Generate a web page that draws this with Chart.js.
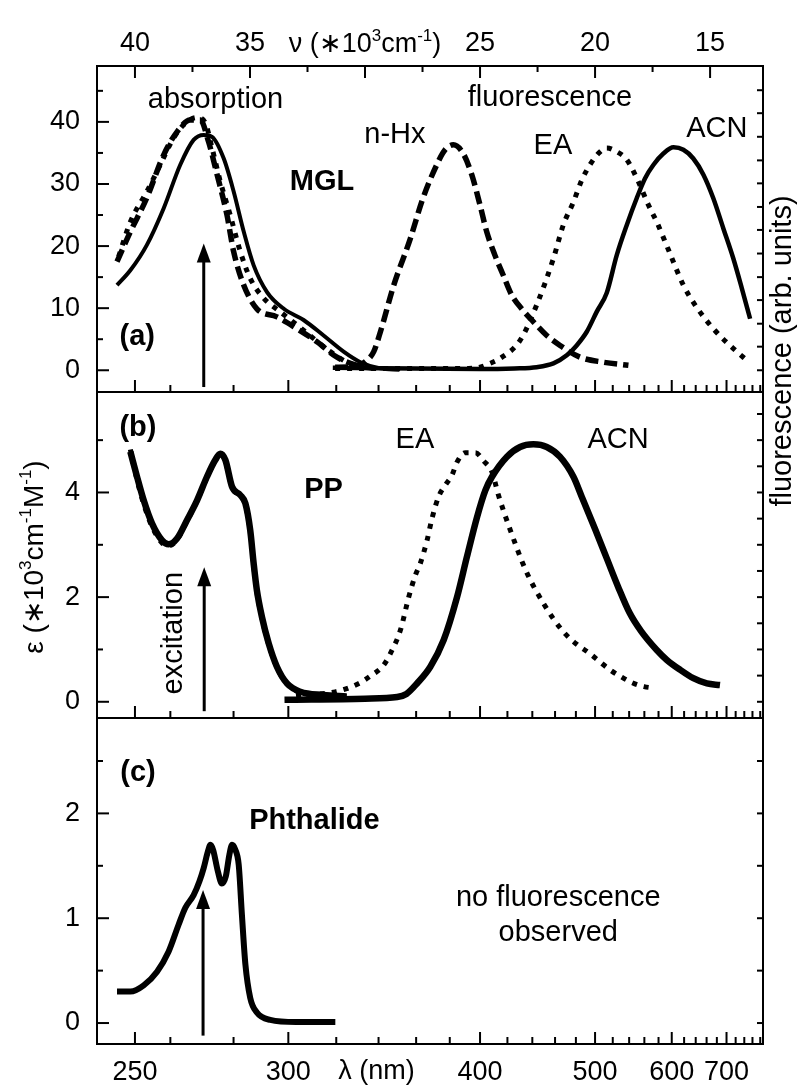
<!DOCTYPE html>
<html lang="en">
<head>
<meta charset="UTF-8">
<title>MGL / PP / Phthalide spectra</title>
<script src="https://cdn.jsdelivr.net/npm/chart.js"></script>
<style>
  body { margin: 0; background: #fff; }
  #wrap { position: relative; width: 798px; height: 1086px; }
  #wrap canvas { position: absolute; left: 0; top: 0; }
</style>
</head>
<body>
<div id="wrap">
  <canvas id="chartA" width="798" height="1086"></canvas>
  <canvas id="chartB" width="798" height="1086"></canvas>
  <canvas id="chartC" width="798" height="1086"></canvas>
</div>
<script>
// x is wavenumber in 10^3 cm-1, running from high (left) to low (right)
const NU_MAX = 41.65, NU_MIN = 12.7;

// ticks
const nuMajor = [40, 35, 30, 25, 20, 15];
const nuLabels = [40, 35, 25, 20, 15];      // 30 is covered by the axis title
const nuMinor = [37.5, 32.5, 27.5, 22.5, 17.5];
const lamMajor = [250, 300, 400, 500, 600, 700];
const lamMinor = [260, 280, 320, 340, 360, 380, 420, 440, 460, 480, 520, 540, 560, 580,
                  620, 640, 660, 680, 720, 740, 760, 780];

const yMajorA = [0, 10, 20, 30, 40], yMinorA = [5, 15, 25, 35, 45];
const rightA = [0, 3.8, 7.5, 11.3, 15, 18.8, 22.6, 26.3, 30.1, 33.8, 37.6, 41.4, 45.1];
const yMajorB = [0, 2, 4], yMinorB = [1, 3, 5];
const rightB = [0, 0.5, 1, 1.5, 2, 2.5, 3, 3.5, 4, 4.5, 5, 5.5];
const yMajorC = [0, 1, 2], yMinorC = [0.5, 1.5, 2.5];
const rightC = [0, 0.5, 1, 1.5, 2, 2.5];

// (a) MGL
const mglAbsHxNu = [40.78, 40.2, 39.48, 38.75, 38.17, 37.6, 37.16, 36.8, 36.43, 36.0, 35.71, 35.27, 34.7, 33.83, 32.96, 32.09, 31.22, 30.35, 29.6];
const mglAbsHx   = [17.5, 22.3, 27.8, 34.7, 38.4, 40.3, 40.3, 36.8, 31.5, 25.0, 19.1, 13.7, 9.9, 8.6, 6.7, 4.6, 2.1, 0.8, 0.3];
const mglAbsEaNu = [40.71, 40.2, 39.48, 38.9, 38.32, 37.81, 37.3, 36.94, 36.65, 36.29, 35.86, 35.42, 34.99, 34.4, 33.68, 32.96, 32.23, 31.51, 30.78, 30.06];
const mglAbsEa   = [18.3, 23.9, 28.8, 33.1, 37.4, 39.8, 40.7, 39.8, 35.8, 30.4, 25.0, 19.1, 14.8, 11.6, 9.4, 7.3, 5.1, 3.0, 1.3, 0.5];
const mglAbsAcnNu = [40.78, 40.2, 39.48, 38.75, 38.03, 37.45, 37.01, 36.65, 36.14, 35.71, 35.27, 34.84, 34.26, 33.53, 32.67, 31.8, 30.93, 30.2, 29.33, 28.5];
const mglAbsAcn   = [13.7, 16.1, 20.2, 26.1, 33.1, 37.1, 37.9, 37.6, 34.1, 28.8, 22.3, 16.9, 12.6, 9.9, 8.1, 5.6, 3.0, 1.3, 0.3, 0.1];
const mglFlHxNu = [31.3, 30.4, 29.95, 29.62, 29.33, 28.75, 28.03, 27.5, 26.88, 26.52, 26.16, 25.73, 25.36, 25.0, 24.71, 24.35, 23.99, 23.62, 23.19, 22.68, 22.1, 21.52, 20.65, 19.64, 18.55];
const mglFlHx   = [0.5, 0.6, 1.5, 3.0, 6.2, 13.7, 21.2, 27.5, 33.1, 35.5, 36.3, 34.9, 31.5, 26.6, 22.3, 18.5, 15.3, 12.1, 9.9, 7.8, 5.6, 4.0, 2.1, 1.3, 0.8];
const mglFlEaNu = [31.3, 25.5, 25.0, 24.57, 24.13, 23.26, 22.54, 21.81, 21.38, 20.94, 20.58, 20.22, 19.86, 19.49, 19.06, 18.62, 18.12, 17.68, 17.32, 16.81, 16.16, 15.65, 14.86, 13.84, 13.4];
const mglFlEa   = [0.3, 0.3, 0.5, 1.1, 1.9, 4.8, 10.5, 18.0, 23.4, 27.1, 30.6, 33.1, 34.9, 35.8, 35.2, 33.9, 30.4, 26.6, 23.9, 19.4, 13.7, 10.5, 6.7, 3.0, 1.6];
const mglFlAcnNu = [31.4, 25.0, 23.5, 22.54, 21.81, 21.23, 20.8, 20.36, 19.93, 19.49, 19.06, 18.62, 18.19, 17.83, 17.46, 17.03, 16.59, 16.16, 15.73, 15.29, 14.86, 14.42, 13.99, 13.62, 13.26];
const mglFlAcn   = [0.4, 0.2, 0.3, 0.5, 1.1, 2.4, 4.0, 6.2, 9.4, 12.5, 18.5, 23.4, 27.7, 30.9, 33.1, 34.9, 35.9, 35.5, 34.1, 31.5, 27.7, 22.8, 18.0, 13.2, 8.3];

// (b) PP
const ppAbsNu = [40.2, 39.91, 39.62, 39.26, 38.83, 38.54, 38.17, 37.74, 37.3, 36.87, 36.51, 36.29, 36.07, 35.78, 35.42, 35.2, 34.99, 34.84, 34.7, 34.48, 34.19, 33.83, 33.39, 32.81, 31.8, 30.8];
const ppAbsAcn = [4.78, 4.30, 3.85, 3.41, 3.09, 3.01, 3.12, 3.47, 3.85, 4.30, 4.62, 4.74, 4.62, 4.11, 3.95, 3.79, 3.28, 2.64, 2.13, 1.62, 1.12, 0.67, 0.35, 0.19, 0.13, 0.10];
const ppAbsEa  = [4.82, 4.24, 3.78, 3.35, 3.04, 2.98, 3.10, 3.45, 3.84, 4.29, 4.61, 4.73, 4.60, 4.10, 3.93, 3.77, 3.26, 2.62, 2.10, 1.60, 1.10, 0.66, 0.34, 0.18, 0.12, 0.10];
const ppFlEaNu = [33.0, 31.29, 30.27, 29.77, 29.19, 28.9, 28.46, 28.1, 27.81, 27.6, 27.3, 27.09, 26.8, 26.51, 26.22, 26.0, 25.64, 25.2, 24.84, 24.48, 24.2, 23.7, 23.0, 22.2, 21.4, 20.8, 20.22, 19.78, 19.35, 18.84, 18.36, 17.87, 17.39];
const ppFlEa   = [0.12, 0.19, 0.35, 0.49, 0.70, 0.92, 1.37, 2.0, 2.42, 2.64, 3.09, 3.50, 3.92, 4.14, 4.33, 4.58, 4.76, 4.76, 4.6, 4.39, 3.95, 3.3, 2.5, 1.85, 1.35, 1.1, 0.92, 0.76, 0.61, 0.47, 0.36, 0.29, 0.26];
const ppFlAcnNu = [33.5, 30.0, 28.6, 28.2, 27.74, 27.16, 26.58, 26.0, 25.57, 25.13, 24.77, 24.48, 23.84, 23.26, 22.68, 22.1, 21.52, 20.94, 20.58, 20.0, 19.5, 19.0, 18.5, 18.0, 17.32, 16.88, 16.3, 15.73, 15.14, 14.57];
const ppFlAcn   = [0.04, 0.06, 0.09, 0.15, 0.35, 0.67, 1.18, 2.0, 2.77, 3.53, 4.04, 4.3, 4.68, 4.87, 4.92, 4.87, 4.68, 4.30, 3.92, 3.3, 2.75, 2.2, 1.7, 1.35, 0.99, 0.80, 0.61, 0.45, 0.35, 0.32];

// (c) Phthalide
const phNu  = [40.78, 40.2, 39.62, 39.04, 38.54, 38.1, 37.81, 37.45, 37.2, 37.01, 36.85, 36.72, 36.6, 36.4, 36.22, 36.05, 35.9, 35.78, 35.65, 35.49, 35.35, 35.2, 34.99, 34.7, 34.12, 33.0, 31.29];
const phAbs = [0.30, 0.30, 0.36, 0.49, 0.68, 0.94, 1.10, 1.22, 1.35, 1.48, 1.62, 1.70, 1.65, 1.45, 1.33, 1.40, 1.60, 1.70, 1.66, 1.51, 1.03, 0.56, 0.24, 0.10, 0.03, 0.01, 0.01];

const FONT = '"Liberation Sans", Arial, Helvetica, sans-serif';
const TXT = 29;   // annotation text size
Chart.defaults.color = '#000';
Chart.defaults.font.family = FONT;

const pts = (xs, ys) => xs.map((x, i) => ({ x: x, y: ys[i] }));
const SOLID = [], DASH = [13, 6], DOT = [5, 7];
function line(xs, ys, dash, width) {
  return {
    data: pts(xs, ys), borderColor: '#000', borderWidth: width, borderDash: dash,
    borderCapStyle: 'butt', borderJoinStyle: 'round', pointRadius: 0, fill: false,
    cubicInterpolationMode: 'monotone'
  };
}

function drawRich(ctx, parts, size) {
  const base = size + 'px ' + FONT, sup = Math.round(size * 0.62) + 'px ' + FONT;
  let w = 0;
  parts.forEach(p => { ctx.font = p.sup ? sup : base; p.w = ctx.measureText(p.t).width; w += p.w; });
  let x = -w / 2;
  ctx.textAlign = 'left';
  ctx.textBaseline = 'alphabetic';
  parts.forEach(p => {
    ctx.font = p.sup ? sup : base;
    ctx.fillText(p.t, x, p.sup ? size * 0.35 - size * 0.42 : size * 0.35);
    x += p.w;
  });
}

// frame, inward ticks, arrows and text
function decor(p) {
  return {
    id: 'decor',
    afterDatasetsDraw(chart) {
      const ctx = chart.ctx, a = chart.chartArea, xs = chart.scales.x, ys = chart.scales.y;
      const seg = (x0, y0, x1, y1) => { ctx.beginPath(); ctx.moveTo(x0, y0); ctx.lineTo(x1, y1); ctx.stroke(); };
      ctx.save();
      ctx.setLineDash([]);
      ctx.strokeStyle = '#000';
      ctx.fillStyle = '#000';
      ctx.lineWidth = 2;
      ctx.strokeRect(a.left, a.top, a.right - a.left, a.bottom - a.top);

      p.yMajor.forEach(v => { const y = ys.getPixelForValue(v); seg(a.left, y, a.left + 12, y); });
      p.yMinor.forEach(v => { const y = ys.getPixelForValue(v); seg(a.left, y, a.left + 6, y); });
      p.right.forEach(v => { const y = ys.getPixelForValue(v); seg(a.right, y, a.right - 6, y); });
      lamMajor.forEach(l => { const x = xs.getPixelForValue(1e4 / l); seg(x, a.bottom, x, a.bottom - 12); });
      lamMinor.forEach(l => {
        const x = xs.getPixelForValue(1e4 / l);
        if (x < a.right - 1) seg(x, a.bottom, x, a.bottom - 7);
      });
      if (p.top) {
        nuMajor.forEach(n => { const x = xs.getPixelForValue(n); seg(x, a.top, x, a.top + 12); });
        nuMinor.forEach(n => { const x = xs.getPixelForValue(n); seg(x, a.top, x, a.top + 6); });
      }

      // excitation arrow
      const ax = xs.getPixelForValue(p.arrow.nu);
      const y0 = ys.getPixelForValue(p.arrow.from), y1 = ys.getPixelForValue(p.arrow.to);
      ctx.lineWidth = 3;
      seg(ax, y0, ax, y1 + 12);
      ctx.beginPath();
      ctx.moveTo(ax, y1);
      ctx.lineTo(ax - 7, y1 + 19);
      ctx.lineTo(ax + 7, y1 + 19);
      ctx.closePath();
      ctx.fill();

      p.labels.forEach(t => {
        ctx.save();
        ctx.translate(xs.getPixelForValue(t.nu), ys.getPixelForValue(t.v));
        if (t.rot) ctx.rotate(t.rot);
        ctx.font = (t.bold ? 'bold ' : '') + TXT + 'px ' + FONT;
        ctx.textAlign = 'center';
        ctx.textBaseline = 'middle';
        ctx.fillText(t.text, 0, 0);
        ctx.restore();
      });
      if (p.extra) p.extra(ctx, a, xs, ys);
      ctx.restore();
    }
  };
}

function yScale(min, max, major) {
  return {
    min: min, max: max,
    grid: { display: false, drawTicks: false }, border: { display: false },
    ticks: { padding: 17, font: { size: 27 } },
    afterBuildTicks: s => { s.ticks = major.map(v => ({ value: v })); },
    afterFit: s => { s.width = 97; }
  };
}
const xHidden = { type: 'linear', reverse: true, min: NU_MIN, max: NU_MAX, display: false };

function makeChart(id, datasets, scales, padding, plugin) {
  return new Chart(document.getElementById(id), {
    type: 'line',
    data: { datasets: datasets },
    options: {
      responsive: false, animation: false, parsing: false, normalized: true,
      layout: { padding: padding },
      plugins: { legend: { display: false }, tooltip: { enabled: false } },
      scales: scales
    },
    plugins: [plugin]
  });
}

// panel (a)
makeChart('chartA', [
  line(mglAbsHxNu, mglAbsHx, DASH, 5.5),
  line(mglAbsEaNu, mglAbsEa, DOT, 5),
  line(mglAbsAcnNu, mglAbsAcn, SOLID, 4),
  line(mglFlHxNu, mglFlHx, DASH, 5.5),
  line(mglFlEaNu, mglFlEa, DOT, 5),
  line(mglFlAcnNu, mglFlAcn, SOLID, 4.5)
], {
  x: xHidden,
  xt: {
    type: 'linear', position: 'top', reverse: true, min: NU_MIN, max: NU_MAX,
    grid: { display: false, drawTicks: false }, border: { display: false },
    ticks: { padding: 6, font: { size: 27 }, autoSkip: false, maxRotation: 0 },
    afterBuildTicks: s => { s.ticks = nuLabels.map(v => ({ value: v })); },
    afterFit: s => { s.height = 66; }
  },
  y: yScale(-3.5, 49.0, yMajorA)
}, { left: 0, right: 35, top: 0, bottom: 694 }, decor({
  yMajor: yMajorA, yMinor: yMinorA, right: rightA, top: true,
  arrow: { nu: 37.01, from: -2.7, to: 20.4 },
  labels: [
    { text: 'absorption', nu: 36.5, v: 43.5 },
    { text: 'fluorescence', nu: 21.96, v: 43.9 },
    { text: 'n-Hx', nu: 28.7, v: 37.9 },
    { text: 'EA', nu: 21.83, v: 36.1 },
    { text: 'ACN', nu: 14.71, v: 38.9 },
    { text: 'MGL', nu: 31.87, v: 30.3, bold: true },
    { text: '(a)', nu: 39.9, v: 5.3, bold: true }
  ],
  extra: (ctx, a, xs) => {
    ctx.save();
    ctx.translate(xs.getPixelForValue(30), 43);
    drawRich(ctx, [{ t: 'ν (∗10' }, { t: '3', sup: true }, { t: 'cm' }, { t: '-1', sup: true }, { t: ')' }], 27);
    ctx.restore();
    ctx.save();
    ctx.translate(a.right + 20, 351);
    ctx.rotate(-Math.PI / 2);
    ctx.font = '29px ' + FONT;
    ctx.textAlign = 'center';
    ctx.textBaseline = 'middle';
    ctx.fillText('fluorescence (arb. units)', 0, 0);
    ctx.restore();
  }
}));

// panel (b)
makeChart('chartB', [
  line(ppAbsNu, ppAbsEa, DOT, 5),
  line(ppAbsNu, ppAbsAcn, SOLID, 6.5),
  line(ppFlEaNu, ppFlEa, DOT, 5),
  line(ppFlAcnNu, ppFlAcn, SOLID, 6.5)
], {
  x: xHidden,
  y: yScale(-0.31, 5.92, yMajorB)
}, { left: 0, right: 35, top: 392, bottom: 368 }, decor({
  yMajor: yMajorB, yMinor: yMinorB, right: rightB, top: false,
  arrow: { nu: 36.99, from: -0.18, to: 2.57 },
  labels: [
    { text: '(b)', nu: 39.87, v: 5.23, bold: true },
    { text: 'EA', nu: 27.83, v: 5.0 },
    { text: 'ACN', nu: 19.0, v: 5.0 },
    { text: 'PP', nu: 31.8, v: 4.04, bold: true },
    { text: 'excitation', nu: 38.32, v: 1.31, rot: -Math.PI / 2 }
  ],
  extra: (ctx, a) => {
    ctx.save();
    ctx.translate(33, (a.top + a.bottom) / 2 + 2);
    ctx.rotate(-Math.PI / 2);
    drawRich(ctx, [{ t: 'ε (∗10' }, { t: '3', sup: true }, { t: 'cm' }, { t: '-1', sup: true },
                   { t: 'M' }, { t: '-1', sup: true }, { t: ')' }], 28);
    ctx.restore();
  }
}));

// panel (c)
makeChart('chartC', [
  line(phNu, phAbs, SOLID, 6)
], {
  x: {
    type: 'linear', position: 'bottom', reverse: true, min: NU_MIN, max: NU_MAX,
    grid: { display: false, drawTicks: false }, border: { display: false },
    ticks: { padding: 12, font: { size: 27 }, autoSkip: false, maxRotation: 0,
             callback: v => Math.round(1e4 / v) },
    afterBuildTicks: s => { s.ticks = lamMajor.map(l => ({ value: 1e4 / l })); },
    afterFit: s => { s.height = 42; }
  },
  y: yScale(-0.2, 2.91, yMajorC)
}, { left: 0, right: 35, top: 718, bottom: 0 }, decor({
  yMajor: yMajorC, yMinor: yMinorC, right: rightC, top: false,
  arrow: { nu: 37.04, from: -0.12, to: 1.27 },
  labels: [
    { text: '(c)', nu: 39.87, v: 2.39, bold: true },
    { text: 'Phthalide', nu: 32.2, v: 1.93, bold: true },
    { text: 'no fluorescence', nu: 21.6, v: 1.19 },
    { text: 'observed', nu: 21.6, v: 0.86 }
  ],
  extra: (ctx, a, xs) => {
    ctx.save();
    ctx.font = '27px ' + FONT;
    ctx.textAlign = 'center';
    ctx.textBaseline = 'middle';
    ctx.fillText('λ (nm)', xs.getPixelForValue(29.5), a.bottom + 28);
    ctx.restore();
  }
}));
</script>
</body>
</html>
